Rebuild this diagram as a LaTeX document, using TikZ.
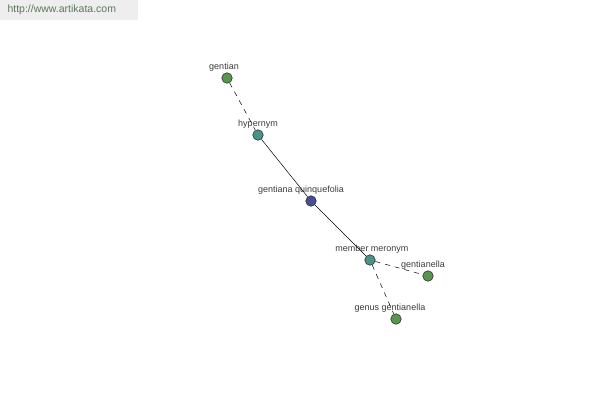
\documentclass[tikz,border=0pt]{standalone}
\usepackage{fontspec}
\setmainfont{Liberation Sans}
\usepackage{xcolor}
\usetikzlibrary{positioning}
\definecolor{leafgreen}{RGB}{88,150,78}
\definecolor{relteal}{RGB}{72,148,138}
\definecolor{rootblue}{RGB}{70,78,150}
\definecolor{labelgray}{RGB}{60,60,60}
\definecolor{bannergray}{RGB}{238,238,238}
\definecolor{bannertext}{RGB}{90,120,90}
\begin{document}
\begin{tikzpicture}[x=1pt,y=-1pt,every node/.style={font=\fontsize{9}{10}\selectfont},
  dot/.style={circle,draw=black!80,line width=0.6pt,inner sep=0pt,minimum size=10.5pt},
  lbl/.style={text=labelgray,inner sep=0pt},
  rel/.style={black,line width=0.5pt},
  weak/.style={rel,dash pattern=on 5pt off 5pt}]
\useasboundingbox (0,0) rectangle (600,400);
\fill[bannergray] (0,0) rectangle (138,20);
\node[text=bannertext,font=\fontsize{10.5}{12}\selectfont,anchor=west] (site) at (4,10) {http://www.artikata.com};
\node[dot,fill=leafgreen] (gentian) at (227,78) {};
\node[dot,fill=relteal] (hyper) at (258,135) {};
\node[dot,fill=rootblue] (root) at (311,201) {};
\node[dot,fill=relteal] (member) at (370,260) {};
\node[dot,fill=leafgreen] (gella) at (428,276) {};
\node[dot,fill=leafgreen] (genus) at (396,319) {};
\node[lbl] at (224,67) {gentian};
\node[lbl] at (258,124) {hypernym};
\node[lbl] at (301,190) {gentiana quinquefolia};
\node[lbl] at (372,249) {member meronym};
\node[lbl] at (423,265) {gentianella};
\node[lbl] at (390,308) {genus gentianella};
\draw[weak] (gentian) -- (hyper);
\draw[rel] (hyper) -- (root);
\draw[rel] (root) -- (member);
\draw[weak] (member) -- (gella);
\draw[weak] (member) -- (genus);
\end{tikzpicture}
\end{document}
